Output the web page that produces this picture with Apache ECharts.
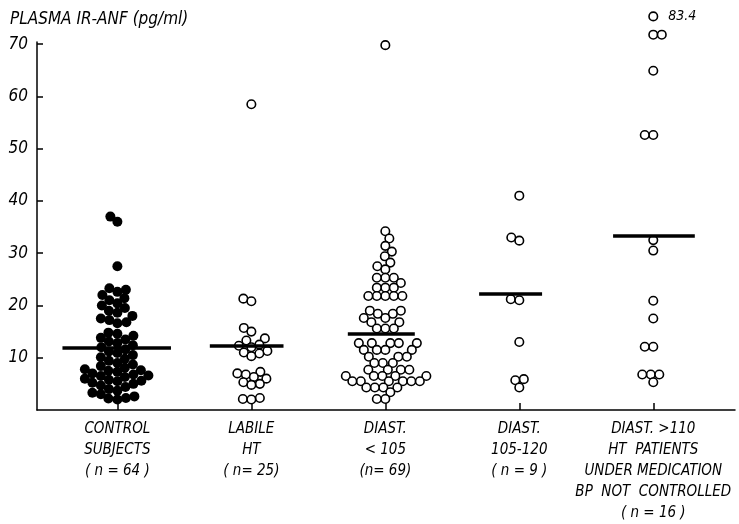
<!DOCTYPE html>
<html>
<head>
<meta charset="utf-8">
<script src="https://cdn.jsdelivr.net/npm/echarts@6/dist/echarts.min.js"></script>
<style>html,body{margin:0;padding:0;background:#fff;}#c{width:739px;height:524px;}</style>
</head>
<body>
<div id="c"></div>
<script>
// ---- data ----
const categories = [
  'CONTROL\nSUBJECTS\n( n = 64 )',
  'LABILE\nHT\n( n= 25)',
  'DIAST.\n< 105\n(n= 69)',
  'DIAST.\n105-120\n( n = 9 )',
  'DIAST. >110\nHT  PATIENTS\nUNDER MEDICATION\nBP  NOT  CONTROLLED\n( n = 16 )'
];
const controlValues = [37, 36, 27.5,
  23.3, 23, 22.6, 22, 21.4, 21, 20.4, 20, 19.5, 19, 18.6, 18, 17.5, 17.2, 16.8, 16.6,
  14.8, 14.6, 14.2, 13.8, 13.5, 13.1, 12.8, 12.4, 12, 11.6, 11.2, 10.9, 10.5, 10.1, 9.8, 9.4,
  9, 8.7, 8.4, 8.1, 7.8, 7.6, 7.5, 7.3, 7, 6.8, 6.6, 6.5, 6.3, 6, 5.8, 5.6, 5.5, 5.2, 5, 4.7, 4.4, 4,
  3.7, 3.3, 3, 2.6, 2.3, 2.2, 2];
const labileValues = [58.5, 21.3, 20.8, 15.7, 15.0, 13.7, 13.3, 12.5, 12.3, 12.0, 11.3, 11.0, 10.8,
  10.3, 7.3, 7.0, 6.8, 6.3, 6.0, 5.3, 5.0, 4.8, 2.3, 2.1, 2.0];
const diastLow = [69.8, 34.2, 32.8, 31.4, 30.3, 29.4, 28.2, 27.5, 26.9, 25.3, 25.3, 25.3, 24.3,
  23.4, 23.4, 23.4, 21.8, 21.8, 21.8, 21.8, 21.8,
  19.0, 19.0, 18.4, 18.4, 17.6, 17.6, 16.8, 16.8, 15.6, 15.6, 15.6,
  12.8, 12.8, 12.8, 12.8, 12.8, 11.5, 11.5, 11.5, 11.5, 10.2, 10.2, 10.2, 9.0, 9.0, 9.0,
  7.7, 7.7, 7.7, 7.7, 6.5, 6.5, 6.5, 6.5, 6.5, 5.5, 5.5, 5.5, 5.5, 5.5, 5.5,
  4.3, 4.3, 4.3, 4.3, 3.4, 2.1, 2.1];
const diastMid = [41.0, 33.0, 32.4, 21.2, 21.0, 13.0, 5.9, 5.7, 4.3];
const diastHigh = [83.4, 71.8, 71.8, 64.9, 52.6, 52.6, 32.5, 30.5, 20.9, 17.5, 12.1, 12.1, 6.8, 6.8, 6.8, 5.3];
const groupValues = [controlValues, labileValues, diastLow, diastMid, diastHigh];
const meanValues = [12.0, 12.2, 14.6, 22.3, 33.4];
const yTicks = [10, 20, 30, 40, 50, 60, 70];

// ---- layout / style ----
const FONT = "'Liberation Sans Narrow', 'DejaVu Sans Condensed', sans-serif";
const GRID = {left: 37, right: 4, top: 42, bottom: 108};
const X_MIN = -0.6, X_MAX = 4.61, Y_MAX = 70.4;
const BREAK_Y = 75.3;   // where off-scale values are drawn (axis break)
const BREAK_AT = 76;
const meanExtent = [[-0.41, 0.40], [-0.31, 0.24], [-0.28, 0.22], [-0.30, 0.17], [-0.30, 0.31]];
const symbolSizes = [10, 8.5, 8.5, 8.5, 8.5];

const W = 739 - GRID.left - GRID.right;
const H = 524 - GRID.top - GRID.bottom;
const pxX = W / (X_MAX - X_MIN);
const pxY = H / Y_MAX;

function swarm(vals, D) {
  const shown = vals.map(v => v > BREAK_AT ? BREAK_Y : v);
  const order = shown.map((v, i) => i).sort((a, b) => shown[a] - shown[b]);
  const placed = [];
  const xs = new Array(vals.length).fill(0);
  let flip = 1;
  for (const i of order) {
    const y = shown[i] * pxY;
    let chosen = 0;
    for (let k = 0; k < 2000; k++) {
      const cand = k === 0 ? 0 : (k % 2 ? flip : -flip) * Math.ceil(k / 2) * 0.5;
      let ok = true;
      for (const p of placed) {
        const dx = cand - p[0], dy = y - p[1];
        if (dx * dx + dy * dy < D * D) { ok = false; break; }
      }
      if (ok) { chosen = cand; break; }
    }
    flip = -flip;
    placed.push([chosen, y]);
    xs[i] = chosen / pxX;
  }
  return {xs, shown};
}

const series = groupValues.map((vals, g) => {
  const filled = g === 0;
  const {xs, shown} = swarm(vals, filled ? 8.6 : 8.3);
  return {
    type: 'scatter',
    clip: false,
    symbol: 'circle',
    symbolSize: symbolSizes[g],
    itemStyle: filled ? {color: '#000', opacity: 1} : {color: '#fff', borderColor: '#000', borderWidth: 1.6, opacity: 1},
    data: vals.map((v, i) => ({
      value: [g + xs[i], shown[i], v],
      label: v > BREAK_AT ? {show: true, position: 'right', distance: 10, formatter: String(v),
        fontFamily: FONT, fontStyle: 'italic', fontSize: 14, color: '#000', opacity: 1} : {show: false}
    })),
    markLine: {
      silent: true, symbol: 'none', animation: false,
      label: {show: false},
      lineStyle: {color: '#000', width: 3.5, type: 'solid', opacity: 1},
      data: [[{coord: [g + meanExtent[g][0], meanValues[g]]}, {coord: [g + meanExtent[g][1], meanValues[g]]}]]
    },
    z: 3
  };
});

const chart = echarts.init(document.getElementById('c'), null, {renderer: 'canvas'});
chart.setOption({
  animation: false,
  backgroundColor: '#fff',
  title: {
    text: 'PLASMA IR-ANF (pg/ml)', left: 5, top: 6,
    textStyle: {fontFamily: FONT, fontStyle: 'italic', fontWeight: 'normal', fontSize: 17, color: '#000'}
  },
  grid: GRID,
  xAxis: {
    type: 'value', min: X_MIN, max: X_MAX,
    splitLine: {show: false},
    axisLine: {show: true, onZero: false, lineStyle: {color: '#000', width: 1.5}},
    axisTick: {show: true, inside: true, length: 7, customValues: [0, 1, 2, 3, 4], lineStyle: {color: '#000', width: 1.5}},
    axisLabel: {
      show: true, customValues: [0, 1, 2, 3, 4], margin: 9,
      formatter: v => categories[Math.round(v)] || '',
      fontFamily: FONT, fontStyle: 'italic', fontSize: 15, lineHeight: 21, color: '#000', align: 'center'
    }
  },
  yAxis: {
    type: 'value', min: 0, max: Y_MAX,
    splitLine: {show: false},
    axisLine: {show: true, onZero: false, lineStyle: {color: '#000', width: 1.5}},
    axisTick: {show: true, inside: true, length: 6, customValues: yTicks, lineStyle: {color: '#000', width: 1.5}},
    axisLabel: {
      customValues: yTicks, margin: 9,
      fontFamily: FONT, fontStyle: 'italic', fontSize: 17, color: '#000'
    }
  },
  series: series
});
</script>
</body>
</html>
